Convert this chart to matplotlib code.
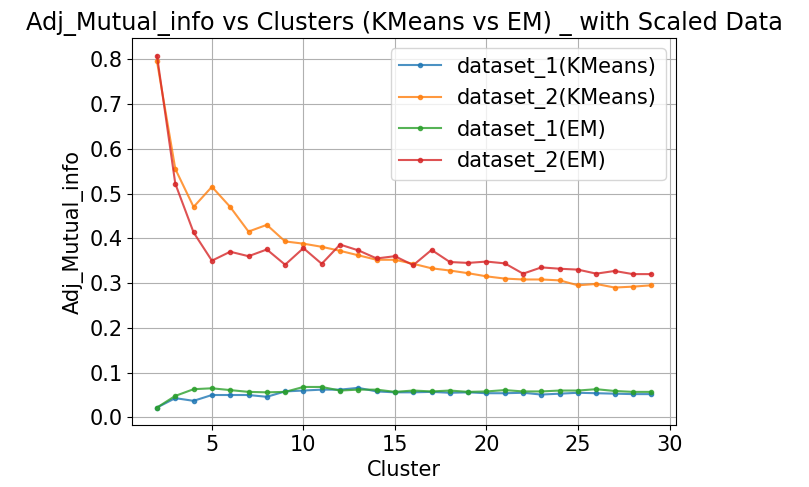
import matplotlib
matplotlib.use("Agg")
import matplotlib.pyplot as plt

clusters = list(range(2, 30))
d1_kmeans = [0.022,0.043,0.037,0.050,0.050,0.050,0.046,0.058,0.060,0.062,0.062,0.066,0.058,0.056,0.056,0.057,0.055,0.056,0.054,0.054,0.055,0.051,0.053,0.055,0.054,0.053,0.052,0.052]
d2_kmeans = [0.795,0.555,0.47,0.515,0.47,0.415,0.43,0.393,0.388,0.381,0.372,0.362,0.352,0.352,0.343,0.333,0.328,0.322,0.315,0.31,0.308,0.308,0.306,0.295,0.298,0.29,0.292,0.295]
d1_em = [0.022,0.048,0.063,0.065,0.061,0.057,0.056,0.057,0.068,0.068,0.060,0.062,0.062,0.057,0.060,0.058,0.060,0.057,0.058,0.061,0.058,0.058,0.060,0.060,0.063,0.059,0.057,0.057]
d2_em = [0.808,0.522,0.413,0.350,0.370,0.360,0.375,0.341,0.378,0.343,0.386,0.373,0.355,0.360,0.340,0.374,0.347,0.345,0.348,0.344,0.321,0.335,0.332,0.330,0.321,0.327,0.320,0.320]

plt.rcParams['font.size'] = 15
fig = plt.figure(figsize=(8.09, 4.87), dpi=100)
ax = fig.add_axes([0.1635, 0.127, 0.672, 0.795])
for y, lab in [(d1_kmeans, 'dataset_1(KMeans)'), (d2_kmeans, 'dataset_2(KMeans)'),
               (d1_em, 'dataset_1(EM)'), (d2_em, 'dataset_2(EM)')]:
    ax.plot(clusters, y, marker='o', markersize=3, alpha=0.8, label=lab)
ax.set_title('Adj_Mutual_info vs Clusters (KMeans vs EM) _ with Scaled Data', fontsize=17.3)
ax.set_xlabel('Cluster')
ax.set_ylabel('Adj_Mutual_info')
ax.grid(True)
ax.legend(loc='upper right')
fig.savefig('out.png')
